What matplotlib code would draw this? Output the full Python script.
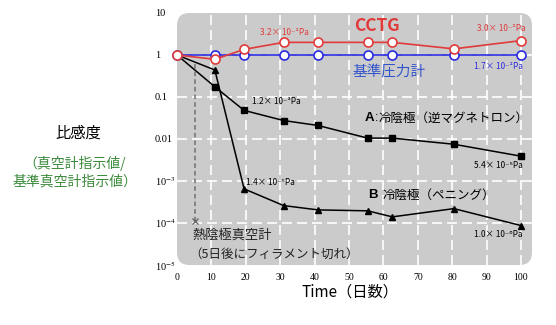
import matplotlib
matplotlib.use("Agg")
import matplotlib.pyplot as plt
from matplotlib.patches import FancyBboxPatch

# ── data ───────────────────────────────────────────────────────────────────
days     = [0, 11, 19.5, 31, 41, 55.4, 62.6, 80.5, 100]
cctg     = [1.0, 0.79, 1.36, 2.0, 2.0, 2.0, 2.0, 1.4, 2.2]
ref      = [1.0, 1.0, 1.0, 1.0, 1.0, 1.0, 1.0, 1.0, 1.0]
cold_a   = [1.0, 0.175, 0.048, 0.0275, 0.021, 0.0105, 0.0105, 0.0075, 0.0039]
cold_b   = [1.0, 0.44, 6.5e-4, 2.6e-4, 2.05e-4, 1.95e-4, 1.4e-4, 2.2e-4, 8.7e-5]
hot_x    = [5.3, 5.3]
hot_y    = [0.62, 1.1e-4]

x_ticks  = [0, 10, 20, 30, 40, 50, 60, 70, 80, 90, 100]
y_ticks  = [1e-5, 1e-4, 1e-3, 1e-2, 1e-1, 1, 10]
y_labels = [r"10$^{-5}$", r"10$^{-4}$", r"10$^{-3}$", "0.01", "0.1", "1", "10"]

RED   = "#e03a3a"
BLUE  = "#2a2ae0"
GREEN = "#3c8a3c"
PANEL = "#cbcbcb"
SANS  = ["Noto Sans CJK JP", "DejaVu Sans"]
SERIF = ["Liberation Serif", "DejaVu Serif"]

plt.rcParams["mathtext.fontset"] = "stix"

fig = plt.figure(figsize=(5.56, 3.25), dpi=100)
ax = fig.add_axes([177 / 556, 1 - 265 / 325, 355 / 556, 252 / 325])
ax.set_yscale("log")
ax.set_xlim(0, 103.2)
ax.set_ylim(1e-5, 10)
ax.patch.set_visible(False)
for s in ax.spines.values():
    s.set_visible(False)

# rounded grey background
bg = FancyBboxPatch((0, 0), 1, 1, boxstyle="round,pad=0,rounding_size=0.035",
                    mutation_aspect=355 / 252, transform=ax.transAxes,
                    facecolor=PANEL, edgecolor="none", zorder=0)
ax.add_patch(bg)

# dashed white grid
for xv in x_ticks[1:]:
    ax.axvline(xv, color="white", lw=1.2, ls=(0, (6, 3)), zorder=1)
for yv in y_ticks[1:-1]:
    ax.axhline(yv, color="white", lw=1.2, ls=(0, (6, 3)), zorder=1)

ax.set_xticks(x_ticks)
ax.set_xticklabels([str(v) for v in x_ticks], family=SERIF, fontsize=7)
ax.set_yticks(y_ticks)
ax.set_yticklabels(y_labels, family=SERIF, fontsize=7.5, ha="left")
ax.minorticks_off()
ax.tick_params(axis="x", length=0, pad=6)
ax.tick_params(axis="y", length=0, pad=16)

# series
ax.plot(days, ref, color=BLUE, lw=1.2, marker="o", ms=6.5, mfc="white",
        mec=BLUE, mew=1.2, zorder=4, clip_on=False)
ax.plot(days, cctg, color=RED, lw=1.2, marker="o", ms=6.5, mfc="white",
        mec=RED, mew=1.2, zorder=5, clip_on=False)
ax.plot(days, cold_a, color="black", lw=1.1, marker="s", ms=4.5, zorder=3,
        clip_on=False)
ax.plot(days, cold_b, color="black", lw=1.1, marker="^", ms=4.5, zorder=3,
        clip_on=False)
ax.plot(hot_x, hot_y, color="#707070", lw=1.1, ls=(0, (3, 2)), zorder=2)
ax.plot(hot_x[1:], hot_y[1:], color="#606060", marker="x", ms=5, mew=0.9, zorder=3)

# annotations
small = dict(family=SANS, fontsize=6, ha="center", va="center", zorder=6)
ax.text(31.1, 3.45, "3.2× 10⁻²Pa", color=RED, **small)
ax.text(94.3, 4.3, "3.0× 10⁻²Pa", color=RED, **small)
ax.text(93.6, 0.54, "1.7× 10⁻²Pa", color=BLUE, **small)
ax.text(28.8, 0.08, "1.2× 10⁻³Pa", color="black", **small)
ax.text(93.5, 0.0023, "5.4× 10⁻⁵Pa", color="black", **small)
ax.text(27.3, 9.1e-4, "1.4× 10⁻⁵Pa", color="black", **small)
ax.text(93.5, 5.4e-5, "1.0× 10⁻⁶Pa", color="black", **small)

ax.text(58, 4.8, "CCTG", color=RED, family=SANS, fontsize=12.5,
        fontweight="bold", ha="center", va="center")
ax.text(61.6, 0.41, "基準圧力計", color="#3355cc", family=SANS, fontsize=10.5,
        ha="center", va="center")

# gauge names: bold letter followed by plain description
ax.text(54.7, 0.0316, "A", family="Liberation Sans", fontsize=9.5,
        fontweight="bold", ha="left", va="center")
ax.text(57.6, 0.0316, ":", family="Liberation Sans", fontsize=9,
        ha="left", va="center")
ax.text(58.6, 0.0316, "冷陰極（逆マグネトロン）", family=SANS, fontsize=9,
        ha="left", va="center")
ax.text(55.5, 4.6e-4, "B", family="Liberation Sans", fontsize=9.5,
        fontweight="bold", ha="left", va="center")
ax.text(59.8, 4.6e-4, "冷陰極（ペニング）", family=SANS, fontsize=9,
        ha="left", va="center")

ax.text(4.4, 5.0e-5, "熱陰極真空計", family=SANS, fontsize=9.5,
        ha="left", va="center", color="#222222")
ax.text(28.2, 1.8e-5, "（5日後にフィラメント切れ）", family=SANS, fontsize=9,
        ha="center", va="center", color="#222222")

# axis titles
fig.text(350 / 556, 1 - 292 / 325, "Time（日数）", family=SANS, fontsize=11,
         ha="center", va="center")
fig.text(78 / 556, 1 - 133 / 325, "比感度", family=SANS, fontsize=11,
         ha="center", va="center")
fig.text(75 / 556, 1 - 163 / 325, "（真空計指示値/", family=SANS, fontsize=10,
         ha="center", va="center", color=GREEN)
fig.text(75 / 556, 1 - 181 / 325, "基準真空計指示値）", family=SANS, fontsize=10,
         ha="center", va="center", color=GREEN)

fig.savefig("out.png", dpi=100, facecolor="white")
